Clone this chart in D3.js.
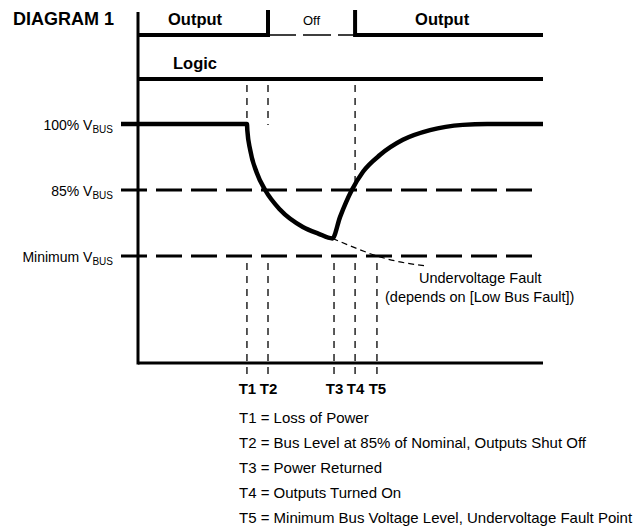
<!DOCTYPE html>
<html>
<head>
<meta charset="utf-8">
<script src="https://cdn.jsdelivr.net/npm/d3@7"></script>
<style>
  body { margin: 0; background: #fff; }
  svg { display: block; font-family: "Liberation Sans", Arial, sans-serif; }
</style>
</head>
<body>
<svg id="chart" width="635" height="529"></svg>
<script>
// events along the time axis (time in % of the plotted span)
const events = ["T1", "T2", "T3", "T4", "T5"];
const eventTimes = [26.9, 32.1, 48.4, 53.6, 59.0];
const eventReach = [100, 100, null, 85, null]; // bus level the upper marker runs down to
const eventNotes = [
  "Loss of Power",
  "Bus Level at 85% of Nominal, Outputs Shut Off",
  "Power Returned",
  "Outputs Turned On",
  "Minimum Bus Voltage Level, Undervoltage Fault Point"
];

// bus levels (% of nominal)
const levelNames = ["100%", "85%", "Minimum"];
const levelValues = [100, 85, 70];

// DC bus voltage trace
const busTime = [0, 26.9, 27.0, 27.7, 29.3, 31.4, 35.1, 40.7, 44.5, 48.0, 49.9, 52.8, 55.6, 59.8, 65.4, 72.1, 80.2, 86.2, 100];
const busVolts = [100, 100, 98.5, 94.1, 89.0, 85.0, 80.5, 76.6, 75.1, 74.0, 78.9, 85.0, 89.2, 93.0, 96.4, 98.6, 99.8, 100, 100];

// projected decay if power had not returned
const faultTime = [48.0, 53.5, 59.0, 65.0, 71.6];
const faultVolts = [74.0, 71.9, 70.0, 68.6, 67.7];

// output states, switching at T2 and T4
const outputStates = ["Output", "Off", "Output"];

const svg = d3.select("#chart");
const x = d3.scaleLinear().domain([0, 100]).range([138, 543]);
const y = d3.scaleLinear().domain([70, 100]).range([256, 124]);

const axisY = 363,
  outY = 35,
  stepTop = 10,
  logicY = 79,
  tickLeft = 121;

// title
svg.append("text")
  .attr("x", 13).attr("y", 25)
  .attr("font-size", "18px").attr("font-weight", "bold")
  .text("DIAGRAM 1");

// axes
svg.append("line")
  .attr("x1", x(0)).attr("x2", x(0))
  .attr("y1", 12).attr("y2", axisY + 1.5)
  .attr("stroke", "#000").attr("stroke-width", 3);
svg.append("line")
  .attr("x1", x(0)).attr("x2", x(100))
  .attr("y1", axisY).attr("y2", axisY)
  .attr("stroke", "#000").attr("stroke-width", 3);

// output row
const edges = [0, eventTimes[1], eventTimes[3], 100];
outputStates.forEach((s, i) => {
  const on = s !== "Off";
  svg.append("line")
    .attr("x1", x(edges[i])).attr("x2", x(edges[i + 1]))
    .attr("y1", outY).attr("y2", outY)
    .attr("stroke", "#000")
    .attr("stroke-width", on ? 4 : 1.3)
    .attr("stroke-dasharray", on ? null : "28,7");
  svg.append("text")
    .attr("x", on ? x(edges[i]) + (i === 0 ? 30 : 60) : (x(edges[i]) + x(edges[i + 1])) / 2)
    .attr("y", 25)
    .attr("text-anchor", on ? "start" : "middle")
    .attr("font-size", on ? "16.5px" : "13px")
    .attr("font-weight", on ? "bold" : "normal")
    .text(s);
});
[eventTimes[1], eventTimes[3]].forEach((t) => {
  svg.append("line")
    .attr("x1", x(t)).attr("x2", x(t))
    .attr("y1", stepTop).attr("y2", outY + 2)
    .attr("stroke", "#000").attr("stroke-width", 4);
});

// logic row
svg.append("line")
  .attr("x1", x(0)).attr("x2", x(100))
  .attr("y1", logicY).attr("y2", logicY)
  .attr("stroke", "#000").attr("stroke-width", 4);
svg.append("text")
  .attr("x", x(0) + 35).attr("y", 69)
  .attr("font-size", "16.5px").attr("font-weight", "bold")
  .text("Logic");

// bus levels
levelValues.forEach((v, i) => {
  const top = v === 100;
  svg.append("line")
    .attr("x1", tickLeft).attr("x2", top ? x(0) : x(99.5))
    .attr("y1", y(v)).attr("y2", y(v))
    .attr("stroke", "#000")
    .attr("stroke-width", top ? 4.5 : 2.8)
    .attr("stroke-dasharray", top ? null : "26,9");
  const label = svg.append("text")
    .attr("x", 113).attr("y", y(v) + 6)
    .attr("text-anchor", "end")
    .attr("font-size", "14px");
  label.append("tspan").text(levelNames[i] + " V");
  label.append("tspan").attr("font-size", "10px").attr("dy", 3).text("BUS");
});

// event markers
const marker = svg.append("g")
  .attr("stroke", "#000").attr("stroke-width", 1.3)
  .attr("stroke-dasharray", "7,6");
eventTimes.forEach((t, i) => {
  if (eventReach[i] !== null) {
    marker.append("line")
      .attr("x1", x(t)).attr("x2", x(t))
      .attr("y1", logicY + 6).attr("y2", y(eventReach[i]) + 1);
  }
  marker.append("line")
    .attr("x1", x(t)).attr("x2", x(t))
    .attr("y1", y(70) + 7).attr("y2", axisY + 16);
});

svg.append("g")
  .attr("transform", `translate(0,${axisY})`)
  .call(d3.axisBottom(x).tickValues(eventTimes).tickFormat((d, i) => events[i]).tickSize(0).tickPadding(20))
  .call((g) => g.select(".domain").remove())
  .call((g) => g.selectAll("text")
    .attr("font-family", "Liberation Sans, Arial, sans-serif")
    .attr("font-size", "15px").attr("font-weight", "bold").attr("fill", "#000"));

// projected fault curve
svg.append("path")
  .datum(faultTime.map((t, i) => [t, faultVolts[i]]))
  .attr("fill", "none").attr("stroke", "#000")
  .attr("stroke-width", 1.2).attr("stroke-dasharray", "6,4")
  .attr("d", d3.line().x((d) => x(d[0])).y((d) => y(d[1])).curve(d3.curveMonotoneX));

// bus voltage trace
svg.append("path")
  .datum(busTime.map((t, i) => [t, busVolts[i]]))
  .attr("fill", "none").attr("stroke", "#000")
  .attr("stroke-width", 4.5).attr("stroke-linejoin", "miter")
  .attr("d", d3.line().x((d) => x(d[0])).y((d) => y(d[1])).curve(d3.curveMonotoneX));

// annotation
svg.append("text")
  .attr("x", 419).attr("y", 283)
  .attr("font-size", "14.5px")
  .text("Undervoltage Fault");
svg.append("text")
  .attr("x", 385).attr("y", 302)
  .attr("font-size", "14.5px")
  .text("(depends on [Low Bus Fault])");

// legend
svg.append("g")
  .selectAll("text")
  .data(events)
  .join("text")
  .attr("x", 239)
  .attr("y", (d, i) => 423 + i * 25)
  .attr("font-size", "15px")
  .text((d, i) => `${d} = ${eventNotes[i]}`);
</script>
</body>
</html>
